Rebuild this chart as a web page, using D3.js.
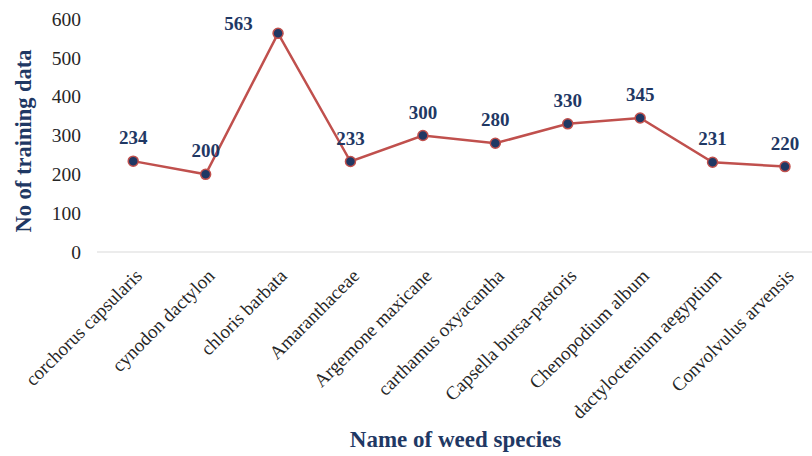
<!DOCTYPE html>
<html>
<head>
<meta charset="utf-8">
<script src="https://cdn.jsdelivr.net/npm/d3@7"></script>
<style>
  html, body { margin: 0; padding: 0; background: #fff; }
  svg { display: block; }
</style>
</head>
<body>
<svg id="chart" width="812" height="456"></svg>
<script>
// Training samples per weed species
const species = [
  "corchorus capsularis", "cynodon dactylon", "chloris barbata", "Amaranthaceae",
  "Argemone maxicane", "carthamus oxyacantha", "Capsella bursa-pastoris",
  "Chenopodium album", "dactyloctenium aegyptium", "Convolvulus arvensis"
];
const counts = [234, 200, 563, 233, 300, 280, 330, 345, 231, 220];
const yTicks = [0, 100, 200, 300, 400, 500, 600];

const navy = "#1F3864";
const red = "#C0504D";
const FONT = '"Liberation Serif"';

const svg = d3.select("#chart");
const plot = { left: 97, right: 821.2, top: 19, bottom: 252 };

const x = d3.scaleBand().domain(species).range([plot.left, plot.right]);
const y = d3.scaleLinear().domain([0, 600]).range([plot.bottom, plot.top]);
const cx = d => x(d) + x.bandwidth() / 2;

// Baseline
svg.append("line")
  .attr("x1", plot.left).attr("x2", plot.right)
  .attr("y1", y(0)).attr("y2", y(0))
  .attr("stroke", "#d9d9d9").attr("stroke-width", 1.2);

// Y axis tick labels
const yAxis = d3.axisLeft(y).tickValues(yTicks).tickSize(0).tickPadding(0);
const gy = svg.append("g").attr("transform", "translate(81,0)").call(yAxis);
gy.select(".domain").remove();
gy.selectAll("text")
  .style("font-family", FONT)
  .attr("font-size", 19.5).attr("fill", "#262626");

// X axis category labels, rotated
const xAxis = d3.axisBottom(x).tickSize(0).tickPadding(0);
const gx = svg.append("g").attr("transform", `translate(0,${y(0)})`).call(xAxis);
gx.select(".domain").remove();
gx.selectAll("text")
  .style("font-family", FONT)
  .attr("font-size", 19).attr("fill", "#262626")
  .attr("text-anchor", "end")
  .attr("dy", null).attr("y", 0)
  .attr("transform", "translate(10,25) rotate(-45)");

// Line
const pts = species.map((s, i) => ({ s, v: counts[i] }));
svg.append("path")
  .datum(pts)
  .attr("fill", "none").attr("stroke", red).attr("stroke-width", 2.5)
  .attr("d", d3.line().x(d => cx(d.s)).y(d => y(d.v)));

// Markers
svg.selectAll("circle.pt").data(pts).join("circle")
  .attr("class", "pt")
  .attr("cx", d => cx(d.s)).attr("cy", d => y(d.v)).attr("r", 5)
  .attr("fill", navy).attr("stroke", red).attr("stroke-width", 1.5);

// Value labels
svg.selectAll("text.val").data(pts).join("text")
  .attr("class", "val")
  .attr("x", d => d.v > 500 ? cx(d.s) - 39.5 : cx(d.s))
  .attr("y", d => d.v > 500 ? y(d.v) - 3 : y(d.v) - 17)
  .attr("text-anchor", "middle")
  .style("font-family", FONT)
  .attr("font-size", 19).attr("font-weight", "bold").attr("fill", navy)
  .text(d => d.v);

// Axis titles
svg.append("text")
  .attr("transform", "translate(31,141) rotate(-90)")
  .attr("text-anchor", "middle")
  .style("font-family", FONT)
  .attr("font-size", 22.5).attr("font-weight", "bold").attr("fill", navy)
  .text("No of training data");

svg.append("text")
  .attr("x", 455.5).attr("y", 447)
  .attr("text-anchor", "middle")
  .style("font-family", FONT)
  .attr("font-size", 23).attr("font-weight", "bold").attr("fill", navy)
  .text("Name of weed species");
</script>
</body>
</html>
